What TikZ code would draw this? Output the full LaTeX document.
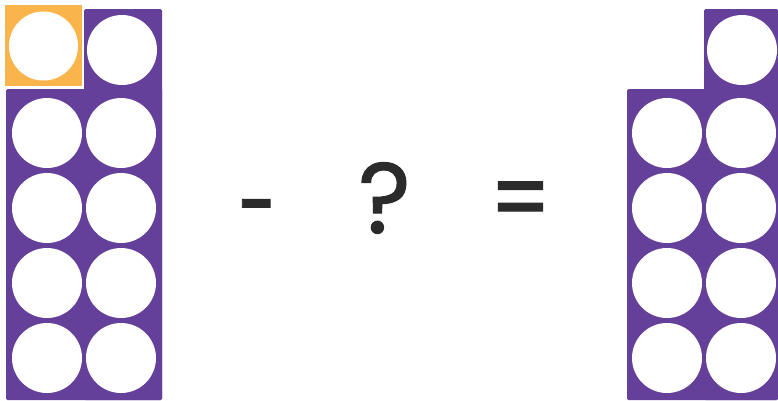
\documentclass[tikz,border=0pt]{standalone}
\usepackage{fontspec}
\setmainfont{Poppins}
\newfontfamily\signfont{Poppins}[FakeBold=1.2]
\definecolor{frame}{HTML}{65409A}
\definecolor{counter}{HTML}{F9B54C}
\definecolor{sign}{HTML}{2B2B2B}
\tikzset{
    sign/.style={text=sign, inner sep=0pt, anchor=base, font=\signfont\fontsize{100}{100}\selectfont},
}
\begin{document}
\begin{tikzpicture}[x=1pt, y=-1pt]
        \useasboundingbox (0,0) rectangle (778,400);

        % left frame: ten
                \fill[frame, rounded corners=1.5pt] (84,9) rectangle (162,400);
                \fill[frame, rounded corners=1.5pt] (6,89) rectangle (162,400);
                \fill[counter] (5,5) rectangle (82,86);
                \fill[white] (43.5,46) circle (34.5);
                \fill[white] (122,50) circle (35);
                \foreach \x in {47, 121} {
                    \foreach \y in {133, 208, 283, 358} {
                        \fill[white] (\x,\y) circle (35);
                    }
                }

        % right frame: nine
                \fill[frame, rounded corners=1.5pt] (704,9) rectangle (778,400);
                \fill[frame, rounded corners=1.5pt] (627,89) rectangle (778,400);
                \fill[white] (742,50) circle (35);
                \foreach \x in {667, 741} {
                    \foreach \y in {133, 208, 283, 358} {
                        \fill[white] (\x,\y) circle (35);
                    }
                }

        % number sentence
                \node[sign] (minus) at (257.5,240) {\scalebox{0.7}[1]{-}};
                \node[sign] (question) at (384.5,233) {?};
                \node[sign] (equals) at (520.5,233) {\scalebox{0.85}[1]{=}};

\end{tikzpicture}
\end{document}
